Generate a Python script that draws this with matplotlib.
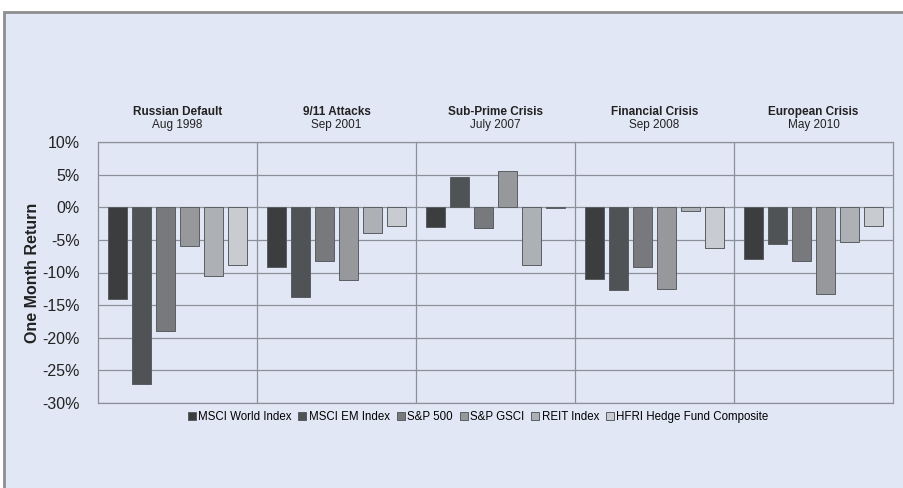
import matplotlib.pyplot as plt
import numpy as np
from matplotlib.patches import Rectangle

plt.rcParams['font.family'] = ['Liberation Sans', 'DejaVu Sans']

# events shown across the top
events = ['Russian Default', '9/11 Attacks', 'Sub-Prime Crisis', 'Financial Crisis', 'European Crisis']
dates = ['Aug 1998', 'Sep 2001', 'July 2007', 'Sep 2008', 'May 2010']

# one month returns (%) per index, one value per event
msci_world = [-14.0, -9.1, -3.0, -11.0, -8.0]
msci_em = [-27.1, -13.7, 4.6, -12.7, -5.6]
sp500 = [-18.9, -8.3, -3.2, -9.2, -8.3]
sp_gsci = [-5.9, -11.1, 5.6, -12.6, -13.3]
reit = [-10.6, -4.0, -8.9, -0.6, -5.4]
hfri = [-8.9, -2.8, -0.15, -6.3, -2.9]

series = ['MSCI World Index', 'MSCI EM Index', 'S&P 500', 'S&P GSCI', 'REIT Index', 'HFRI Hedge Fund Composite']
values = [msci_world, msci_em, sp500, sp_gsci, reit, hfri]
colors = ['#3b3d3f', '#505356', '#77797c', '#96989c', '#adb0b4', '#c8cbd0']

bg = '#e1e7f4'
grid_c = '#8b909a'

fig = plt.figure(figsize=(9.04, 4.88), dpi=100, facecolor='white')
# background panel with grey border on top/left
fig.patches.append(Rectangle((4 / 904, -0.01), 1.0, 1 - 12 / 488 + 0.01, transform=fig.transFigure,
                             facecolor=bg, edgecolor='#8e8e8e', linewidth=2, zorder=-10))

ax = fig.add_axes([98 / 904, 1 - 403 / 488, (893 - 98) / 904, (403 - 142) / 488])
ax.set_facecolor(bg)

n = len(events)
pitch = 0.151
width = 0.123
x0 = np.arange(n) + 0.5
handles = []
for i, (name, vals, c) in enumerate(zip(series, values, colors)):
    b = ax.bar(x0 + (i - 2.5) * pitch, vals, width=width, color=c,
               edgecolor='#5a5d62', linewidth=0.7, label=name, zorder=3)
    handles.append(b)

ax.set_xlim(0, n)
ax.set_ylim(-30, 10)
ax.set_yticks(np.arange(-30, 11, 5))
ax.set_yticklabels([f'{v}%' for v in range(-30, 11, 5)], fontsize=11.5)
ax.set_xticks([])
ax.tick_params(axis='y', length=0, pad=13, colors='#222222')
ax.grid(axis='y', color=grid_c, linewidth=0.9, zorder=1)
for k in range(1, n):
    ax.axvline(k, color=grid_c, linewidth=0.9, zorder=1)
for s in ax.spines.values():
    s.set_color(grid_c)
    s.set_linewidth(0.9)

ax.set_ylabel('One Month Return', fontsize=11.5, fontweight='bold', labelpad=2, color='#222222')

for k, (ev, d) in enumerate(zip(events, dates)):
    ax.text(k + 0.5, 1.115, ev, transform=ax.get_xaxis_transform(), ha='center', va='center',
            fontsize=8.5, fontweight='bold', color='#222222')
    ax.text(k + 0.5, 1.065, d, transform=ax.get_xaxis_transform(), ha='center', va='center',
            fontsize=8.5, color='#222222')

fig.legend(handles=handles, labels=series, loc='center', bbox_to_anchor=(478 / 904, 1 - 417 / 488),
           ncol=6, frameon=False, fontsize=8.3, handlelength=0.7, handleheight=0.7,
           handletextpad=0.2, columnspacing=0.6)

fig.savefig('out.png', dpi=100, facecolor=fig.get_facecolor())
